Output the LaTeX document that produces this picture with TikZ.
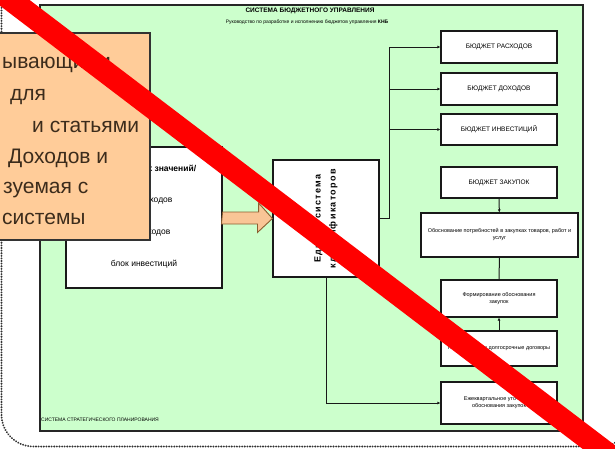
\documentclass[tikz,border=0pt]{standalone}
\usepackage{fontspec}
\setmainfont{Liberation Sans}
\usetikzlibrary{arrows.meta, shadows}

\definecolor{panelgreen}{HTML}{CCFFCC}
\definecolor{notepeach}{HTML}{FFCC99}
\definecolor{arrowpeach}{HTML}{F9C596}
\definecolor{arrowedge}{HTML}{8C5E30}
\definecolor{notetext}{HTML}{3C2C1C}
\definecolor{framegray}{HTML}{333333}

\tikzset{
  frame/.style={draw=framegray, line width=2.1pt, dash pattern=on 0.01pt off 2.6pt, line cap=round, rounded corners=32pt},
  panel/.style={draw=black!85, line width=1.2pt, fill=panelgreen, drop shadow={shadow xshift=1pt, shadow yshift=-1pt, opacity=0.6}},
  tinytext/.style={inner sep=0pt, font=\fontsize{5}{6}\selectfont},
  budgetbox/.style={draw=black!90, line width=1.1pt, fill=white, minimum width=116pt, minimum height=32pt, inner sep=1pt, align=center, font=\fontsize{6.5}{8}\selectfont, drop shadow={shadow xshift=0.9pt, shadow yshift=-0.9pt, opacity=0.7}},
  smalltext/.style={font=\fontsize{5.5}{7}\selectfont},
  blocktext/.style={anchor=base, inner sep=0pt, font=\fontsize{8.5}{10}\selectfont},
  notetextstyle/.style={anchor=base west, inner sep=0pt, text=notetext, font=\fontsize{21}{24}\selectfont},
  link/.style={draw=black!90, line width=1pt},
  arr/.style={link, -{Latex[length=3pt, width=3pt]}},
  fatarrow/.style={fill=arrowpeach, draw=arrowedge, line width=0.9pt, line join=miter}
}

\begin{document}
\begin{tikzpicture}[x=1pt, y=-1pt]
\useasboundingbox (0,0) rectangle (615,448);
\clip (0,0) rectangle (615,448);

% dotted outer frame
\draw [frame] (1.5,-60) -- (1.5,446.5) -- (632,446.5) -- (632,-60);

% green panel
\draw [panel] (40,5) rectangle (583,431);
\node [tinytext, font=\fontsize{6.5}{8}\selectfont\bfseries] (title) at (310,11) {СИСТЕМА БЮДЖЕТНОГО УПРАВЛЕНИЯ};
\node [tinytext] (subtitle) at (307,22) {Руководство по разработке и исполнению бюджетов управления \textbf{КНБ}};
\node [tinytext, anchor=base west] (foot) at (41,421) {СИСТЕМА СТРАТЕГИЧЕСКОГО ПЛАНИРОВАНИЯ};

% left block box
\node [budgetbox, minimum width=156pt, minimum height=141pt] (blocks) at (144,217.5) {};
\node [blocktext] (bl1) at (144,171) {\textbf{Блок целевых значений/}};
\node [blocktext] (bl2) at (144,202) {блок расходов};
\node [blocktext] (bl3) at (144,234) {блок доходов};
\node [blocktext] (bl4) at (144,266) {блок инвестиций};

% classifier box (turned: north = left, south = right, west = bottom)
\node [budgetbox, minimum width=117pt, minimum height=106pt, rotate=90,
       font=\fontsize{9}{15}\selectfont\bfseries\addfontfeatures{LetterSpace=15}] (klass) at (326,218.5)
       {Единая система\\классификаторов};

% budgets
\node [budgetbox] (rashod) at (499,47) {БЮДЖЕТ РАСХОДОВ};
\node [budgetbox] (dohod) at (499,89) {БЮДЖЕТ ДОХОДОВ};
\node [budgetbox, minimum height=31pt] (invest) at (499,129.5) {БЮДЖЕТ ИНВЕСТИЦИЙ};
\node [budgetbox, minimum height=31pt] (zakup) at (499,182.5) {БЮДЖЕТ ЗАКУПОК};
\node [budgetbox, smalltext, minimum width=157pt, minimum height=44pt] (obosn) at (499.5,235)
      {Обоснование потребностей в закупках товаров, работ и\\услуг};
\node [budgetbox, smalltext, minimum height=37pt] (perspekt) at (499,298.5)
      {Формирование обоснования\\закупок};
\node [budgetbox, smalltext, minimum height=35pt] (godplan) at (499,348.5)
      {Годовой план и долгосрочные договоры};
\node [budgetbox, smalltext, minimum height=42pt] (kvartal) at (499,403)
      {Ежеквартальное уточнение\\обоснования закупок};

% connectors
\coordinate (fork) at ([xshift=10pt]klass.south);
\draw [link] (klass.south) -- (fork);
\draw [arr] (fork) |- (rashod.west);
\draw [arr] (fork) |- (dohod.west);
\draw [arr] (fork) |- (invest.west);
\draw [arr] (zakup) -- (obosn);
\draw [link] (obosn) -- (perspekt);
\draw [arr] (godplan) -- (perspekt);
\draw [arr] (klass.west) |- (kvartal.west);

% fat arrow
\draw [fatarrow] (blocks.east) ++(0,-5.5) -- ++(36,0) -- ++(0,-9) -- (klass.north)
      -- ++(-15,14) -- ++(0,-8.5) -- ++(-36,0) -- cycle;

% note box
\node [draw=black!80, line width=1.2pt, fill=notepeach, minimum width=157pt, minimum height=207pt] (note) at (71.5,136.5) {};
\node [notetextstyle] (n1) at (2,68) {ывающими};
\node [notetextstyle] (n2) at (10,100) {для};
\node [notetextstyle] (n3) at (32,132) {и статьями};
\node [notetextstyle] (n4) at (8,163) {Доходов и};
\node [notetextstyle] (n5) at (3,193) {зуемая с};
\node [notetextstyle] (n6) at (2,224) {системы};

% red strike
\draw [red, line width=22.5pt] (-10,-16) -- (625,467);
\end{tikzpicture}
\end{document}
